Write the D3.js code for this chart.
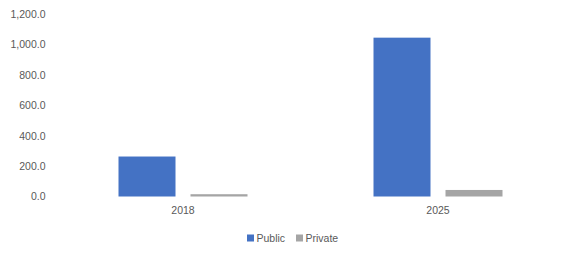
<!DOCTYPE html>
<html>
<head>
<meta charset="utf-8">
<script src="https://cdn.jsdelivr.net/npm/d3@7"></script>
<style>
  body { margin: 0; background: #fff; }
  text { font-family: "Liberation Sans", Arial, sans-serif; fill: #595959; }
</style>
</head>
<body>
<div id="chart"></div>
<script>
const years = ["2018", "2025"];
const seriesNames = ["Public", "Private"];
const publicValues = [263, 1045];
const privateValues = [15, 43];
const yTicks = [0, 200, 400, 600, 800, 1000, 1200];
const colors = { Public: "#4472C4", Private: "#A5A5A5" };

const W = 581, H = 278;
const plot = { left: 55.5, right: 565.5, top: 14.1, bottom: 196.5 };

const svg = d3.select("#chart").append("svg")
  .attr("width", W).attr("height", H);

const x0 = d3.scaleBand().domain(years).range([plot.left, plot.right]);
const x1 = d3.scaleBand().domain(seriesNames)
  .range([63, 63 + 129]).paddingInner(0.2083);
const y = d3.scaleLinear().domain([0, 1200]).range([plot.bottom, plot.top]);

// y axis labels
const yAxis = d3.axisLeft(y).tickValues(yTicks).tickSize(0).tickPadding(0)
  .tickFormat(d3.format(",.1f"));
svg.append("g")
  .attr("transform", `translate(45.5,0)`)
  .call(yAxis)
  .call(g => g.select(".domain").remove())
  .selectAll("text").style("font-size", "10.5px").attr("fill", "#595959")
  .attr("font-family", null);

// x axis labels
const xAxis = d3.axisBottom(x0).tickSize(0).tickPadding(10);
svg.append("g")
  .attr("transform", `translate(0,${plot.bottom})`)
  .call(xAxis)
  .call(g => g.select(".domain").remove())
  .selectAll("text").style("font-size", "10.5px").attr("fill", "#595959")
  .attr("font-family", null);

const data = years.map((yr, i) => ({
  year: yr,
  values: [
    { key: "Public", value: publicValues[i] },
    { key: "Private", value: privateValues[i] }
  ]
}));

svg.append("g").selectAll("g")
  .data(data)
  .join("g")
  .attr("transform", d => `translate(${x0(d.year)},0)`)
  .selectAll("rect")
  .data(d => d.values)
  .join("rect")
  .attr("x", d => x1(d.key))
  .attr("y", d => y(d.value))
  .attr("width", x1.bandwidth())
  .attr("height", d => y(0) - y(d.value))
  .attr("fill", d => colors[d.key]);

// legend
const legend = svg.append("g").attr("transform", "translate(247,238)");
const items = [{ key: "Public", x: 0 }, { key: "Private", x: 49 }];
const li = legend.selectAll("g").data(items).join("g")
  .attr("transform", d => `translate(${d.x},0)`);
li.append("rect").attr("x", 0).attr("y", -3.5).attr("width", 7).attr("height", 7)
  .attr("fill", d => colors[d.key]);
li.append("text").attr("x", 9.5).attr("y", 0).attr("dy", "0.35em")
  .style("font-size", "10.5px").text(d => d.key);
</script>
</body>
</html>
